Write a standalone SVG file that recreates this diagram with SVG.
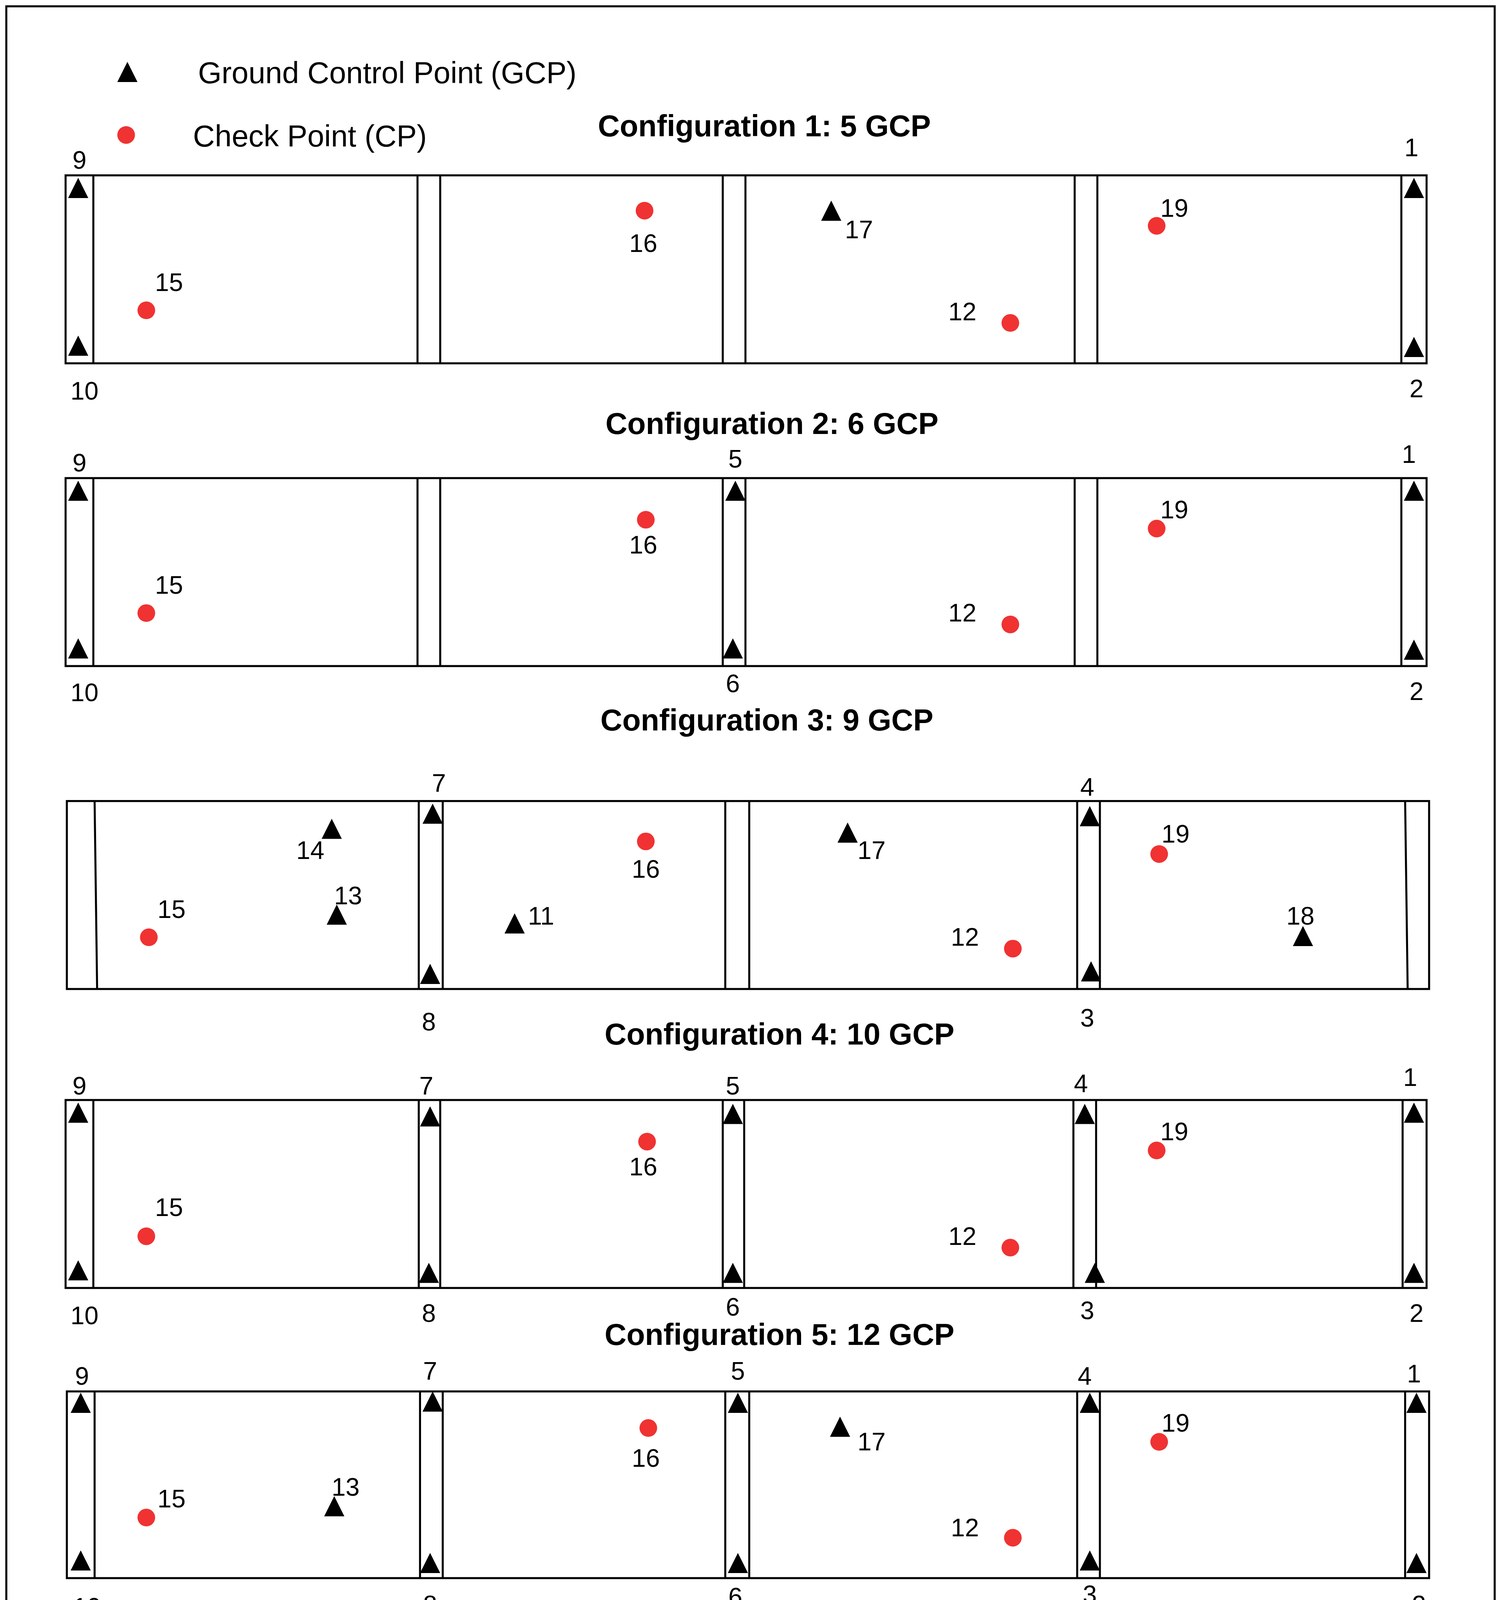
<svg xmlns="http://www.w3.org/2000/svg" width="3843" height="5057" viewBox="0 0 3843 5057">
<style>
.f{fill:none;stroke:#000;stroke-width:1.6}
.t{font-family:"Liberation Sans",Arial,sans-serif;font-size:20px;text-anchor:middle;dominant-baseline:central;fill:#000}
.h{font-family:"Liberation Sans",Arial,sans-serif;font-size:24px;font-weight:bold;text-anchor:middle;fill:#000}
.l{font-family:"Liberation Sans",Arial,sans-serif;font-size:24px;fill:#000}
.c{fill:#f03232}
</style>
<defs>
<path id="tr" d="M0,-9 L8,7 L-8,7 Z" fill="#000"/>
</defs>
<rect width="3843" height="5057" fill="#fff"/>
<g transform="scale(3.2294)">
<rect x="5" y="5" width="1180" height="1555" class="f"/>
<g id="legend">
<use href="#tr" x="101" y="58"/><text class="l" x="157" y="66">Ground Control Point (GCP)</text>
<circle class="c" cx="100" cy="107" r="7"/><text class="l" x="153" y="116">Check Point (CP)</text>
</g>
<g id="config1">
<text class="h" x="606" y="108">Configuration 1: 5 GCP</text>
<rect class="f" x="52" y="139" width="1079" height="149"/>
<path class="f" d="M74,139V288M331,139V288M349,139V288M573,139V288M591,139V288M852,139V288M870,139V288M1111,139V288"/>
<use href="#tr" x="62" y="150"/><use href="#tr" x="62" y="275"/><use href="#tr" x="1121" y="150"/><use href="#tr" x="1121" y="276"/><use href="#tr" x="659" y="168"/>
<circle class="c" cx="116" cy="246" r="7"/><circle class="c" cx="511" cy="167" r="7"/><circle class="c" cx="801" cy="256" r="7"/><circle class="c" cx="917" cy="179" r="7"/>
<text class="t" x="63" y="127">9</text><text class="t" x="67" y="310">10</text><text class="t" x="1119" y="117">1</text><text class="t" x="1123" y="308">2</text><text class="t" x="681" y="182">17</text>
<text class="t" x="134" y="224">15</text><text class="t" x="510" y="193">16</text><text class="t" x="763" y="247">12</text><text class="t" x="931" y="165">19</text>
</g>
<g id="config2">
<text class="h" x="612" y="344">Configuration 2: 6 GCP</text>
<rect class="f" x="52" y="379" width="1079" height="149"/>
<path class="f" d="M74,379V528M331,379V528M349,379V528M573,379V528M591,379V528M852,379V528M870,379V528M1111,379V528"/>
<use href="#tr" x="62" y="390"/><use href="#tr" x="62" y="515"/><use href="#tr" x="583" y="390"/><use href="#tr" x="581" y="515"/><use href="#tr" x="1121" y="390"/><use href="#tr" x="1121" y="516"/>
<circle class="c" cx="116" cy="486" r="7"/><circle class="c" cx="512" cy="412" r="7"/><circle class="c" cx="801" cy="495" r="7"/><circle class="c" cx="917" cy="419" r="7"/>
<text class="t" x="63" y="367">9</text><text class="t" x="67" y="549">10</text><text class="t" x="583" y="364">5</text><text class="t" x="581" y="542">6</text><text class="t" x="1117" y="360">1</text><text class="t" x="1123" y="548">2</text>
<text class="t" x="134" y="464">15</text><text class="t" x="510" y="432">16</text><text class="t" x="763" y="486">12</text><text class="t" x="931" y="404">19</text>
</g>
<g id="config3">
<text class="h" x="608" y="579">Configuration 3: 9 GCP</text>
<rect class="f" x="53" y="635" width="1080" height="149"/>
<path class="f" d="M75,635L77,784M332,635V784M351,635V784M575,635V784M594,635V784M854,635V784M872,635V784M1114,635L1116,784"/>
<use href="#tr" x="343" y="646"/><use href="#tr" x="341" y="773"/><use href="#tr" x="864" y="648"/><use href="#tr" x="865" y="771"/>
<use href="#tr" x="263" y="658"/><use href="#tr" x="267" y="726"/><use href="#tr" x="408" y="733"/><use href="#tr" x="672" y="661"/><use href="#tr" x="1033" y="743"/>
<circle class="c" cx="118" cy="743" r="7"/><circle class="c" cx="512" cy="667" r="7"/><circle class="c" cx="803" cy="752" r="7"/><circle class="c" cx="919" cy="677" r="7"/>
<text class="t" x="348" y="621">7</text><text class="t" x="340" y="810">8</text><text class="t" x="862" y="624">4</text><text class="t" x="862" y="807">3</text>
<text class="t" x="246" y="674">14</text><text class="t" x="276" y="710">13</text><text class="t" x="429" y="726">11</text><text class="t" x="691" y="674">17</text><text class="t" x="1031" y="726">18</text>
<text class="t" x="136" y="721">15</text><text class="t" x="512" y="689">16</text><text class="t" x="765" y="743">12</text><text class="t" x="932" y="661">19</text>
</g>
<g id="config4">
<text class="h" x="618" y="828">Configuration 4: 10 GCP</text>
<rect class="f" x="52" y="872" width="1079" height="149"/>
<path class="f" d="M74,872V1021M332,872V1021M349,872V1021M573,872V1021M590,872V1021M851,872V1021M869,872V1021M1112,872V1021"/>
<use href="#tr" x="62" y="883"/><use href="#tr" x="62" y="1008"/><use href="#tr" x="341" y="886"/><use href="#tr" x="340" y="1010"/><use href="#tr" x="581" y="884"/><use href="#tr" x="581" y="1010"/><use href="#tr" x="860" y="884"/><use href="#tr" x="868" y="1010"/><use href="#tr" x="1121" y="883"/><use href="#tr" x="1121" y="1010"/>
<circle class="c" cx="116" cy="980" r="7"/><circle class="c" cx="513" cy="905" r="7"/><circle class="c" cx="801" cy="989" r="7"/><circle class="c" cx="917" cy="912" r="7"/>
<text class="t" x="63" y="861">9</text><text class="t" x="67" y="1043">10</text><text class="t" x="338" y="861">7</text><text class="t" x="340" y="1041">8</text><text class="t" x="581" y="861">5</text><text class="t" x="581" y="1036">6</text><text class="t" x="857" y="859">4</text><text class="t" x="862" y="1039">3</text><text class="t" x="1118" y="854">1</text><text class="t" x="1123" y="1041">2</text>
<text class="t" x="134" y="957">15</text><text class="t" x="510" y="925">16</text><text class="t" x="763" y="980">12</text><text class="t" x="931" y="897">19</text>
</g>
<g id="config5">
<text class="h" x="618" y="1066">Configuration 5: 12 GCP</text>
<rect class="f" x="53" y="1103" width="1080" height="148"/>
<path class="f" d="M75,1103V1251M333,1103V1251M351,1103V1251M575,1103V1251M594,1103V1251M854,1103V1251M872,1103V1251M1114,1103V1251"/>
<use href="#tr" x="64" y="1113"/><use href="#tr" x="64" y="1238"/><use href="#tr" x="343" y="1112"/><use href="#tr" x="341" y="1240"/><use href="#tr" x="585" y="1113"/><use href="#tr" x="585" y="1240"/><use href="#tr" x="864" y="1113"/><use href="#tr" x="864" y="1238"/><use href="#tr" x="1123" y="1113"/><use href="#tr" x="1123" y="1240"/><use href="#tr" x="666" y="1132"/><use href="#tr" x="265" y="1195"/>
<circle class="c" cx="116" cy="1203" r="7"/><circle class="c" cx="514" cy="1132" r="7"/><circle class="c" cx="803" cy="1219" r="7"/><circle class="c" cx="919" cy="1143" r="7"/>
<text class="t" x="65" y="1091">9</text><text class="t" x="69" y="1274">10</text><text class="t" x="341" y="1087">7</text><text class="t" x="341" y="1272">8</text><text class="t" x="585" y="1087">5</text><text class="t" x="583" y="1266">6</text><text class="t" x="860" y="1091">4</text><text class="t" x="864" y="1264">3</text><text class="t" x="1121" y="1089">1</text><text class="t" x="1125" y="1272">2</text>
<text class="t" x="691" y="1143">17</text><text class="t" x="274" y="1179">13</text>
<text class="t" x="136" y="1188">15</text><text class="t" x="512" y="1156">16</text><text class="t" x="765" y="1211">12</text><text class="t" x="932" y="1128">19</text>
</g>
<g id="config6">
<text class="h" x="617" y="1298">Configuration 6: 15 GCP</text>
<rect class="f" x="53" y="1332" width="1080" height="149"/>
<path class="f" d="M75,1332V1481M333,1332V1481M351,1332V1481M575,1332V1481M594,1332V1481M854,1332V1481M872,1332V1481M1114,1332V1481"/>
<use href="#tr" x="64" y="1342"/><use href="#tr" x="64" y="1468"/><use href="#tr" x="343" y="1342"/><use href="#tr" x="341" y="1470"/><use href="#tr" x="585" y="1340"/><use href="#tr" x="583" y="1470"/><use href="#tr" x="864" y="1344"/><use href="#tr" x="865" y="1468"/><use href="#tr" x="1123" y="1342"/><use href="#tr" x="1123" y="1470"/>
<use href="#tr" x="263" y="1355"/><use href="#tr" x="267" y="1422"/><use href="#tr" x="408" y="1430"/><use href="#tr" x="672" y="1357"/><use href="#tr" x="1033" y="1440"/>
<circle class="c" cx="118" cy="1440" r="7"/><circle class="c" cx="512" cy="1363" r="7"/><circle class="c" cx="803" cy="1449" r="7"/><circle class="c" cx="919" cy="1372" r="7"/>
<text class="t" x="65" y="1320">9</text><text class="t" x="69" y="1503">10</text><text class="t" x="341" y="1316">7</text><text class="t" x="341" y="1502">8</text><text class="t" x="585" y="1316">5</text><text class="t" x="583" y="1496">6</text><text class="t" x="862" y="1320">4</text><text class="t" x="864" y="1494">3</text><text class="t" x="1121" y="1318">1</text><text class="t" x="1125" y="1502">2</text>
<text class="t" x="246" y="1371">14</text><text class="t" x="276" y="1406">13</text><text class="t" x="429" y="1423">11</text><text class="t" x="691" y="1370">17</text><text class="t" x="1031" y="1423">18</text>
<text class="t" x="136" y="1417">15</text><text class="t" x="512" y="1385">16</text><text class="t" x="765" y="1440">12</text><text class="t" x="932" y="1357">19</text>
</g>
</g>
</svg>
